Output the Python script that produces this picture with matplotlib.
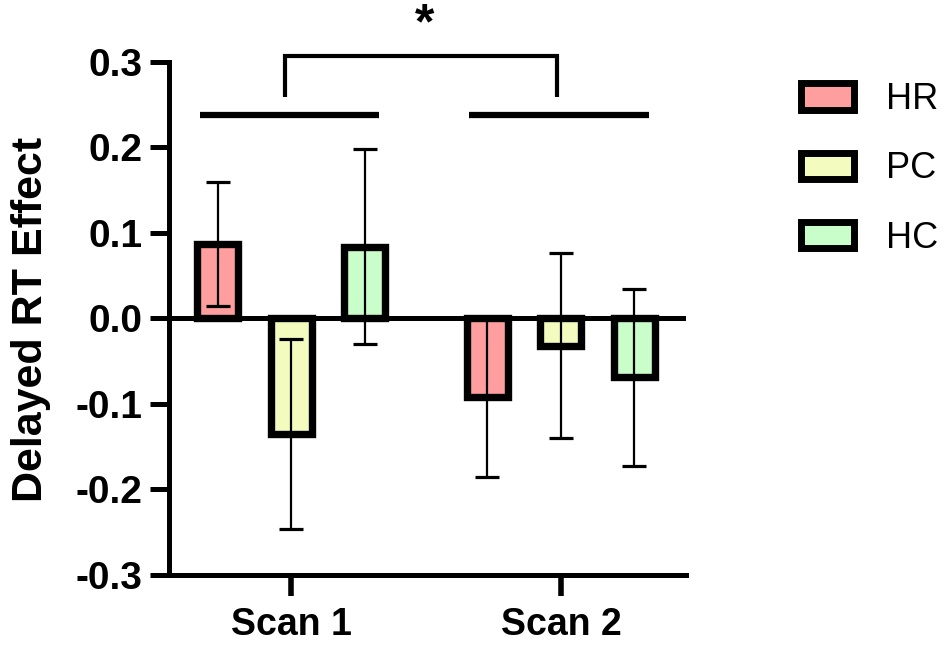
import numpy as np
import matplotlib.pyplot as plt
from matplotlib.patches import Patch

plt.rcParams['font.family'] = ['Liberation Sans', 'DejaVu Sans']

# Data
scans = ['Scan 1', 'Scan 2']
groups = ['HR', 'PC', 'HC']
colors = ['#FF9E9E', '#F3FCBE', '#C9FDC9']
means = {
    'HR': [0.087, -0.092],
    'PC': [-0.135, -0.032],
    'HC': [0.084, -0.069],
}
errs = {
    'HR': [0.072, 0.093],
    'PC': [0.111, 0.108],
    'HC': [0.114, 0.103],
}
yticks = [-0.3, -0.2, -0.1, 0.0, 0.1, 0.2, 0.3]

fig = plt.figure(figsize=(9.48, 6.45), dpi=100)
ax = fig.add_axes([0.178, 0.1085, 0.5456, 0.7958])

x = np.arange(len(scans))
step = 0.2727
width = 0.152

for i, g in enumerate(groups):
    pos = x + (i - 1) * step
    ax.bar(pos, means[g], width, color=colors[i], edgecolor='black',
           linewidth=5.3, zorder=2, label=g)
    ax.errorbar(pos, means[g], yerr=errs[g], fmt='none', ecolor='black',
                elinewidth=1.6, capsize=8.5, capthick=2.3, zorder=3)

ax.axhline(0, color='black', lw=3.6, zorder=4)

# significance bracket
for c in x:
    ax.plot([c - 0.34, c + 0.325], [0.238, 0.238], color='black', lw=4.5,
            solid_capstyle='butt', clip_on=False)
bx = [x[0] - 0.024, x[0] - 0.024, x[1] - 0.015, x[1] - 0.015]
ax.plot(bx, [0.259, 0.307, 0.307, 0.259], color='black', lw=3,
        solid_capstyle='butt', solid_joinstyle='miter', clip_on=False)
ax.text(0.495, 0.316, '*', ha='center', va='bottom', fontsize=36,
        fontweight='bold')

ax.set_xlim(-0.455, 1.464)
ax.set_ylim(-0.3, 0.3)
ax.set_yticks(yticks)
ax.set_yticklabels([f'{v:.1f}' for v in yticks], fontsize=28, fontweight='bold')
ax.set_xticks(x)
ax.set_xticklabels(scans, fontsize=27, fontweight='bold')
ax.tick_params(axis='y', length=14, width=3.6, pad=5)
ax.tick_params(axis='x', length=15, width=4, pad=8)
ax.set_ylabel('Delayed RT Effect', fontsize=31, fontweight='bold')
ax.yaxis.set_label_coords(-0.227, 0.497)

for s in ['top', 'right']:
    ax.spines[s].set_visible(False)
for s in ['left', 'bottom']:
    ax.spines[s].set_linewidth(3.6)

handles = [Patch(facecolor=colors[i], edgecolor='black', linewidth=5, label=g)
           for i, g in enumerate(groups)]
fig.legend(handles=handles, loc='upper left', bbox_to_anchor=(0.83, 0.895),
           frameon=False, fontsize=26, handlelength=1.45, handleheight=0.75,
           handletextpad=0.9, labelspacing=0.95, borderaxespad=0)

fig.savefig('out.png', dpi=100)
